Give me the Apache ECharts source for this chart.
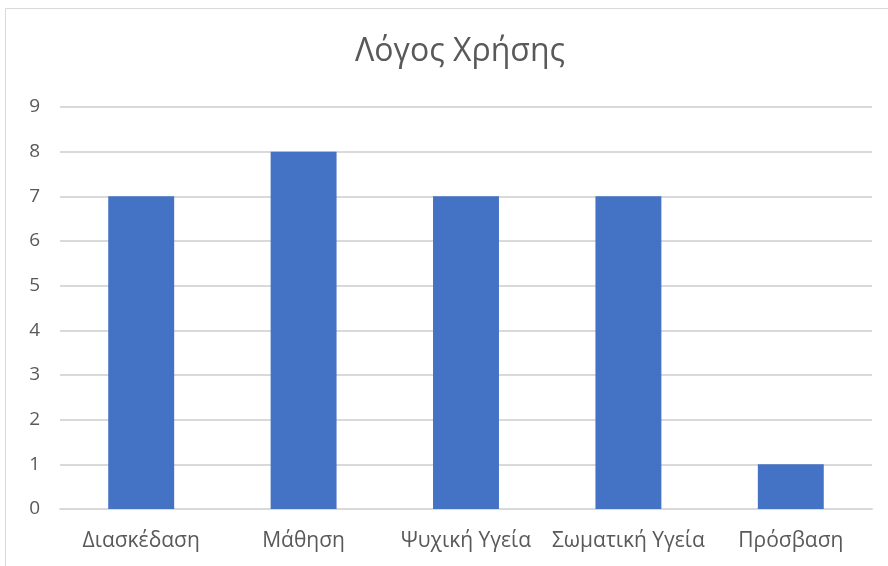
<!DOCTYPE html>
<html><head><meta charset="utf-8">
<script src="https://cdn.jsdelivr.net/npm/echarts@6/dist/echarts.min.js"></script>
<style>html,body{margin:0;padding:0;background:#fff}#c{width:888px;height:566px}</style>
</head><body><div id="c"></div>
<script>
const title = "Λόγος Χρήσης";
const categories = ["Διασκέδαση", "Μάθηση", "Ψυχική Υγεία", "Σωματική Υγεία", "Πρόσβαση"];
const values = [7, 8, 7, 7, 1];
const yTicks = [0, 1, 2, 3, 4, 5, 6, 7, 8, 9];

const font = "'Open Sans', sans-serif";
const chart = echarts.init(document.getElementById('c'));
chart.setOption({
  animation: false,
  backgroundColor: '#fff',
  graphic: [{type: 'rect', shape: {x: 5.5, y: 8.5, width: 900, height: 600}, style: {fill: 'none', stroke: '#d9d9d9', lineWidth: 1}}],
  title: {text: title, left: 455, textAlign: 'center', top: 31, textStyle: {fontFamily: font, fontSize: 32, fontWeight: 'normal', color: '#595959'}},
  grid: {left: 60, right: 16, top: 107, bottom: 57, containLabel: false},
  xAxis: {type: 'category', data: categories,
    axisLine: {show: true, lineStyle: {color: '#d9d9d9', width: 2}},
    axisTick: {show: false},
    axisLabel: {fontFamily: font, fontSize: 21, color: '#595959', margin: 22, interval: 0}},
  yAxis: {type: 'value', min: yTicks[0], max: yTicks[yTicks.length - 1], interval: 1,
    axisLine: {show: false}, axisTick: {show: false},
    splitLine: {lineStyle: {color: '#d9d9d9', width: 2}},
    axisLabel: {fontFamily: font, fontSize: 19, color: '#595959', margin: 20}},
  series: [{type: 'bar', data: values, barWidth: '40.6%', itemStyle: {color: '#4472c4'}}]
});
</script></body></html>
